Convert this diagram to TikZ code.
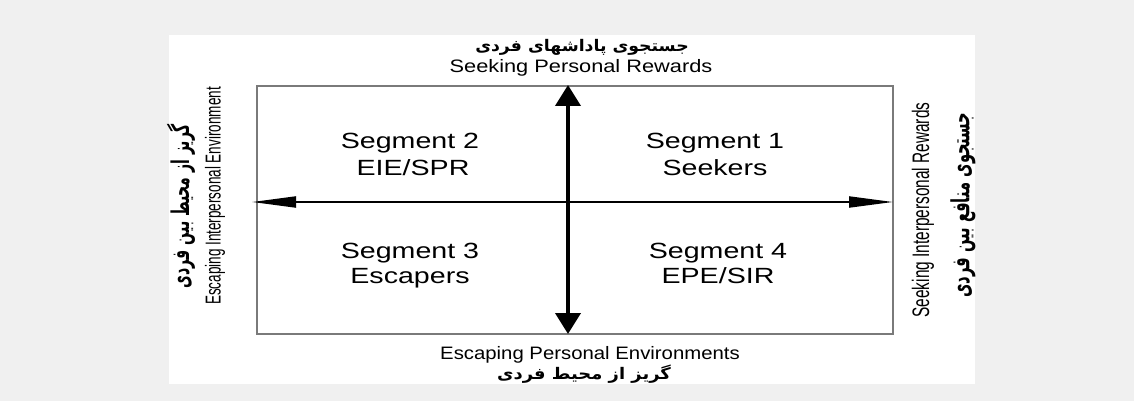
\documentclass[tikz,border=0pt]{standalone}
\usepackage{fontspec}
\setmainfont{Liberation Sans}
\newfontfamily\fa[Script=Arabic]{DejaVu Sans}
\TeXXeTstate=1
\usetikzlibrary{arrows.meta}
\definecolor{bgray}{HTML}{F0F0F0}
\definecolor{framegray}{HTML}{7A7A7A}
\begin{document}
\begin{tikzpicture}[x=1pt,y=-1pt,
  segtext/.style={anchor=base, inner sep=0pt, font=\fontsize{22}{26}\selectfont, xscale=1.3},
  axtext/.style={anchor=base, inner sep=0pt, font=\fontsize{18}{22}\selectfont},
  fatext/.style={anchor=center, inner sep=0pt, font=\fa\bfseries\fontsize{16}{20}\selectfont},
  sidetext/.style={anchor=center, inner sep=0pt, rotate=90},
  hx/.style={line width=2pt, {Triangle[length=44pt,width=11pt]}-{Triangle[length=44pt,width=11pt]}},
  vy/.style={line width=4pt, {Triangle[length=21pt,width=25pt]}-{Triangle[length=21pt,width=25pt]}}]
\useasboundingbox (0,0) rectangle (1134,401);
\fill[bgray] (0,0) rectangle (1134,401);
\fill[white] (169,35) rectangle (975,384);
% frame
\coordinate (NW) at (257,86);
\coordinate (SE) at (893,334);
\draw[framegray, line width=1.8pt] (NW) rectangle (SE);
% axes
\coordinate (Ltip) at (252,202);
\coordinate (Rtip) at (893,202);
\coordinate (Ttip) at (568,85);
\coordinate (Btip) at (568,334);
\draw[hx] (Ltip) -- (Rtip);
\draw[vy] (Ttip) -- (Btip);
% segments
\node[segtext] (s2a) at (410,148) {Segment 2};
\node[segtext] (s2b) at (413,175) {EIE/SPR};
\node[segtext] (s1a) at (715,148) {Segment 1};
\node[segtext] (s1b) at (715,175) {Seekers};
\node[segtext] (s3a) at (410,258) {Segment 3};
\node[segtext] (s3b) at (410,283) {Escapers};
\node[segtext] (s4a) at (718,258) {Segment 4};
\node[segtext] (s4b) at (718,283) {EPE/SIR};
% top / bottom labels
\node[fatext, xscale=1.08] (topfa) at (582,47) {\beginR جستجوی پاداشهای فردی\endR};
\node[axtext, xscale=1.21] (topen) at (581,73) {Seeking Personal Rewards};
\node[axtext, xscale=1.13] (boten) at (590,359) {Escaping Personal Environments};
\node[fatext, xscale=1.12] (botfa) at (584,374) {\beginR گریز از محیط فردی\endR};
% side labels
\node[sidetext] (leften) at (215,196) {\scalebox{1}[1.6]{\fontsize{13.5}{16}\selectfont Escaping Interpersonal Environment}};
\node[sidetext] (leftfa) at (181,206) {\scalebox{1}[1.75]{\fa\bfseries\fontsize{14}{18}\selectfont\beginR گریز از محیط بین فردی\endR}};
\node[sidetext] (righten) at (923,210) {\scalebox{1}[1.55]{\fontsize{15.4}{18}\selectfont Seeking Interpersonal Rewards}};
\node[sidetext] (rightfa) at (963,205) {\scalebox{1}[1.7]{\fa\bfseries\fontsize{14.7}{18}\selectfont\beginR جستجوی منافع بین فردی\endR}};
\end{tikzpicture}
\end{document}
